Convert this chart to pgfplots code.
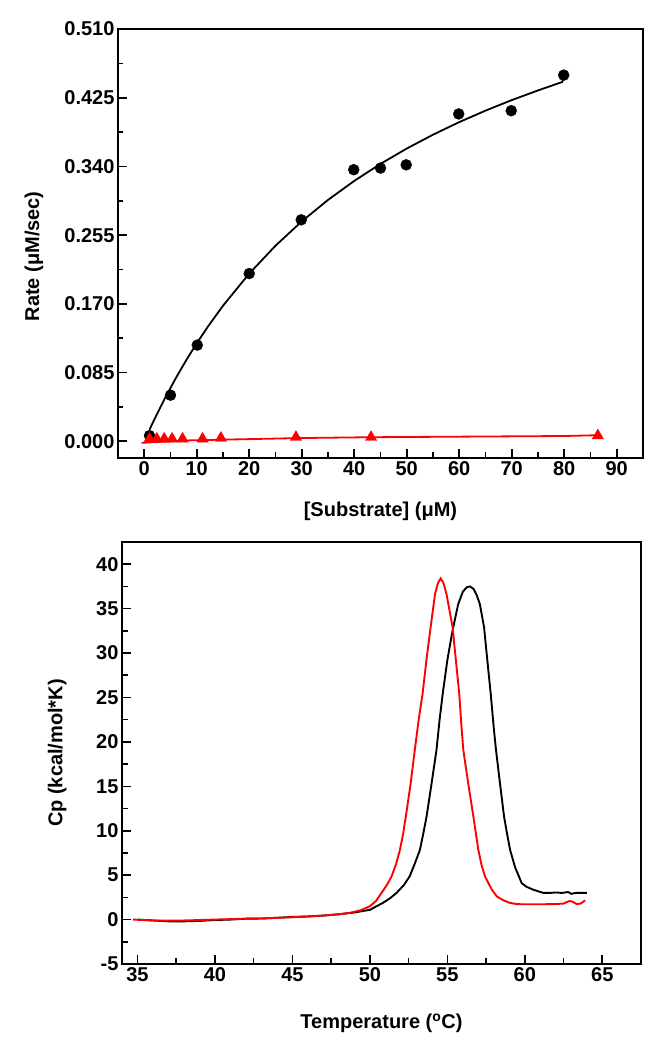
\documentclass[border=0pt]{standalone}
\usepackage{fontspec}
\setmainfont{Liberation Sans}
\usepackage{pgfplots}
\pgfplotsset{compat=1.18}
\begin{document}
\begin{tikzpicture}
\useasboundingbox (0,0) rectangle (655pt,1050pt);
\pgfplotsset{
  every axis/.append style={
    scale only axis,
    axis line style={line width=1.8pt},
    every tick/.style={line width=1.6pt, black},
    major tick length=9pt, minor tick length=5.5pt,
    tick align=inside,
    xtick pos=left, ytick pos=left,
    /pgf/number format/assume math mode=true,
    ticklabel style={font=\fontsize{20}{24}\selectfont\bfseries},
    label style={font=\fontsize{20}{24}\selectfont\bfseries},
    minor tick num=1,
    clip=false,
  }
}
% ---------------- top panel ----------------
\begin{axis}[at={(118pt,592pt)}, anchor=south west, width=525pt, height=429pt,
  xmin=-5, xmax=95, ymin=-0.0207, ymax=0.5101,
  xtick={0,10,...,90},
  ytick={0,0.085,0.17,0.255,0.34,0.425,0.51},
  scaled y ticks=false,
  yticklabel style={/pgf/number format/.cd, fixed, fixed zerofill, precision=3},
  xlabel={[Substrate] (μM)}, ylabel={Rate (μM/sec)},
  xlabel style={at={(axis description cs:0.5,-0.124)}, anchor=center},
  ylabel style={at={(axis description cs:-0.16,0.47)}, anchor=center},
]
% fitted curve (black)
\addplot[black, line width=1.8pt, no marks] coordinates {
(1,0.01429) (2,0.02802) (4,0.05393) (6,0.07798) (8,0.10035) (10,0.12121)
(12,0.14072) (15,0.16770) (20,0.20749) (25,0.24194) (30,0.27204) (35,0.29858)
(40,0.32215) (45,0.34322) (50,0.36217) (55,0.37931) (60,0.39488) (65,0.40909)
(70,0.42211) (75,0.43408) (79.6,0.4445) (80,0.452)
};
% fitted line (red)
\addplot[red, line width=1.8pt, no marks] coordinates {
(-0.5,-0.002) (5,0.000) (8,0.001) (15,0.002) (30,0.004) (43,0.005) (80,0.0065) (86.4,0.0075)
};
% data (black circles)
\addplot[only marks, mark=*, mark size=5.5pt, black] coordinates {
(1.0,0.007) (5.0,0.057) (10.1,0.119) (20,0.2075) (29.9,0.274) (39.9,0.336)
(45,0.338) (49.9,0.342) (59.9,0.405) (69.9,0.409) (79.9,0.453)
};
% data (red triangles)
\addplot[only marks, mark=triangle*, mark size=6.5pt, red] coordinates {
(1.0,0.003) (2.4,0.003) (3.8,0.003) (5.3,0.003) (7.3,0.003) (11.1,0.003)
(14.6,0.004) (28.9,0.005) (43.2,0.005) (86.4,0.007)
};
\end{axis}
% ---------------- bottom panel ----------------
\begin{axis}[at={(122pt,86pt)}, anchor=south west, width=519pt, height=422pt,
  xmin=34, xmax=67.5, ymin=-5, ymax=42.5,
  xtick={35,40,...,65}, ytick={-5,0,...,40},
  xlabel={Temperature (\textsuperscript{o}C)}, ylabel={Cp (kcal/mol*K)},
  xlabel style={at={(axis description cs:0.5,-0.14)}, anchor=center},
  ylabel style={at={(axis description cs:-0.125,0.5)}, anchor=center},
]
\addplot[black, line width=1.9pt, no marks] coordinates {
(35.0,0.0) (36.0,-0.1) (37.0,-0.2) (38.0,-0.2) (39.0,-0.15) (40.0,-0.05)
(41.0,0.0) (42.0,0.1) (43.0,0.12) (44.0,0.2) (45.0,0.3) (46.0,0.35)
(47.0,0.45) (48.0,0.6) (49.0,0.8) (50.0,1.1) (50.86,1.9) (51.3,2.4)
(51.72,3.0) (52.2,3.9) (52.58,4.9) (52.9,6.3) (53.23,7.85) (53.45,9.7)
(53.66,11.6) (53.98,15.3) (54.3,19.1) (54.5,22.5) (54.7,25.4) (55.0,29.2)
(55.2,31.2) (55.38,32.9) (55.7,35.5) (56.0,36.9) (56.25,37.4) (56.46,37.5)
(56.7,37.2) (56.9,36.5) (57.1,35.5) (57.37,32.9) (57.58,29.2) (57.8,25.4)
(58.0,21.5) (58.14,19.1) (58.4,15.3) (58.66,11.6) (58.85,9.7) (59.05,7.85)
(59.37,5.9) (59.8,4.1) (60.1,3.7) (60.55,3.36) (61.2,3.0) (61.6,3.0)
(62.0,3.05) (62.4,3.0) (62.6,3.05) (62.8,3.1) (63.0,2.9) (63.3,3.0) (64.0,3.0)
};
\addplot[red, line width=1.9pt, no marks] coordinates {
(34.7,0.0) (36.0,-0.1) (37.0,-0.12) (38.0,-0.1) (39.0,-0.05) (40.0,0.0)
(41.0,0.05) (42.0,0.1) (43.0,0.12) (44.0,0.2) (45.0,0.26) (46.0,0.35)
(47.0,0.45) (48.0,0.6) (48.7,0.75) (49.4,1.05) (50.0,1.5) (50.4,2.1)
(50.75,3.0) (51.1,3.9) (51.4,4.86) (51.7,6.3) (51.94,7.85) (52.15,9.7)
(52.32,11.6) (52.63,15.3) (52.9,19.1) (53.15,22.5) (53.4,25.4) (53.65,29.2)
(53.92,32.9) (54.2,36.6) (54.4,37.9) (54.57,38.4) (54.75,37.9) (54.95,36.6)
(55.34,32.9) (55.55,29.2) (55.77,25.4) (55.9,22.0) (56.03,19.1) (56.35,15.3)
(56.68,11.6) (57.0,7.85) (57.2,6.2) (57.43,4.86) (57.86,3.4) (58.2,2.6)
(58.62,2.17) (59.0,1.9) (59.48,1.74) (60.0,1.72) (61.0,1.72) (62.0,1.75)
(62.5,1.8) (62.9,2.1) (63.1,2.0) (63.35,1.74) (63.6,1.8) (63.9,2.17)
};
\end{axis}
\end{tikzpicture}
\end{document}
